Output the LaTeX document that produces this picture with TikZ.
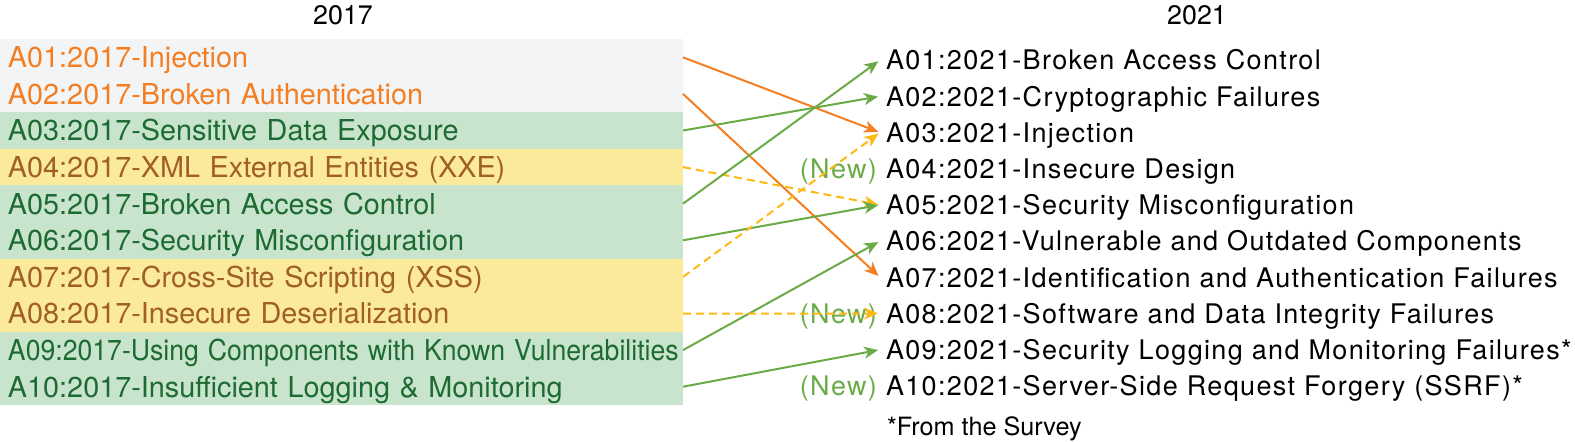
\documentclass[tikz,border=0pt]{standalone}
\usepackage{fontspec}
\setmainfont{TeX Gyre Heros}
\newfontfamily\widefont[LetterSpace=5]{TeX Gyre Heros}
\usetikzlibrary{arrows.meta,positioning}

\definecolor{orng}{HTML}{F47E22}
\definecolor{dkgreen}{HTML}{1D6B33}
\definecolor{brwn}{HTML}{A05F27}
\definecolor{graybg}{HTML}{F3F4F6}
\definecolor{greenbg}{HTML}{C9E4CC}
\definecolor{yellowbg}{HTML}{FCEA9B}
\definecolor{lgreen}{HTML}{6AAB47}
\definecolor{gold}{HTML}{FDBA14}

\begin{document}
\begin{tikzpicture}[->,>={Stealth[length=7pt,width=6pt,inset=2pt]},shorten >=1pt,line width=1pt,
    cat17/.style={minimum height=18.3pt,text width=333.5pt,align=left,inner xsep=4pt,inner ysep=0pt,outer sep=0pt,
        text height=10.6pt,text depth=0.3pt,font=\fontsize{14.4}{17}\selectfont},
    cat21/.style={minimum height=18.1pt,text width=345pt,align=left,inner xsep=3pt,inner ysep=0pt,outer sep=0pt,
        text height=10.05pt,text depth=0.35pt,font=\widefont\fontsize{13.5}{16}\selectfont},
    year/.style={font=\fontsize{13.4}{16}\selectfont},
    newtag/.style={inner xsep=1.5pt,outer sep=0pt,text height=10.05pt,text depth=0.35pt,text=lgreen,
        font=\widefont\fontsize{13.5}{16}\selectfont}]

    \useasboundingbox (0,0) rectangle (787.5pt,-220.5pt);

    \node[year] (y17) at (171.5pt,-7.5pt) {2017};
    \node[year] (y21) at (598.5pt,-7.5pt) {2021};

    % 2017 list
    \node[cat17,fill=graybg,text=orng,anchor=north west] (l1) at (0,-19.5pt) {A01:2017-Injection};
    \node[cat17,fill=graybg,text=orng] (l2) [below=0pt of l1] {A02:2017-Broken Authentication};
    \node[cat17,fill=greenbg,text=dkgreen] (l3) [below=0pt of l2] {A03:2017-Sensitive Data Exposure};
    \node[cat17,fill=yellowbg,text=brwn] (l4) [below=0pt of l3] {A04:2017-XML External Entities (XXE)};
    \node[cat17,fill=greenbg,text=dkgreen] (l5) [below=0pt of l4] {A05:2017-Broken Access Control};
    \node[cat17,fill=greenbg,text=dkgreen] (l6) [below=0pt of l5] {A06:2017-Security Misconfiguration};
    \node[cat17,fill=yellowbg,text=brwn] (l7) [below=0pt of l6] {A07:2017-Cross-Site Scripting (XSS)};
    \node[cat17,fill=yellowbg,text=brwn] (l8) [below=0pt of l7] {A08:2017-Insecure Deserialization};
    \node[cat17,fill=greenbg,text=dkgreen] (l9) [below=0pt of l8] {\scalebox{0.925}[1]{A09:2017-Using Components with Known Vulnerabilities}};
    \node[cat17,fill=greenbg,text=dkgreen] (l10) [below=0pt of l9] {A10:2017-Insufficient Logging \& Monitoring};

    % 2021 list
    \node[cat21,anchor=north west] (r1) at (440pt,-21pt) {A01:2021-Broken Access Control};
    \node[cat21] (r2) [below=0pt of r1] {A02:2021-Cryptographic Failures};
    \node[cat21] (r3) [below=0pt of r2] {A03:2021-Injection};
    \node[cat21] (r4) [below=0pt of r3] {A04:2021-Insecure Design};
    \node[cat21] (r5) [below=0pt of r4] {A05:2021-Security Misconfiguration};
    \node[cat21] (r6) [below=0pt of r5] {A06:2021-Vulnerable and Outdated Components};
    \node[cat21] (r7) [below=0pt of r6] {A07:2021-Identification and Authentication Failures};
    \node[cat21] (r8) [below=0pt of r7] {A08:2021-Software and Data Integrity Failures};
    \node[cat21] (r9) [below=0pt of r8] {A09:2021-Security Logging and Monitoring Failures*};
    \node[cat21] (r10) [below=0pt of r9] {A10:2021-Server-Side Request Forgery (SSRF)*};

    \node[newtag] (n4) [left=0pt of r4] {(New)};
    \node[newtag] (n10) [left=0pt of r10] {(New)};

    \node[anchor=west,inner sep=3pt,font=\fontsize{12.6}{15}\selectfont] (note) at (440pt,-214.5pt) {*From the Survey};

    \path
        (l1.east) edge[orng] (r3.west)
        (l2.east) edge[orng] (r7.west)
        (l3.east) edge[lgreen] (r2.west)
        (l4.east) edge[gold,dashed,dash pattern=on 4pt off 2.5pt] (r5.west)
        (l5.east) edge[lgreen] (r1.west)
        (l6.east) edge[lgreen] (r5.west)
        (l7.east) edge[gold,dashed,dash pattern=on 4pt off 2.5pt] (r3.west)
        (l9.east) edge[lgreen] (r6.west)
        (l10.east) edge[lgreen] (r9.west)
    ;

    \node[newtag] (n8) [left=0pt of r8] {(New)};
    \path (l8.east) edge[gold,dashed,dash pattern=on 4pt off 2.5pt] (r8.west);
\end{tikzpicture}
\end{document}
